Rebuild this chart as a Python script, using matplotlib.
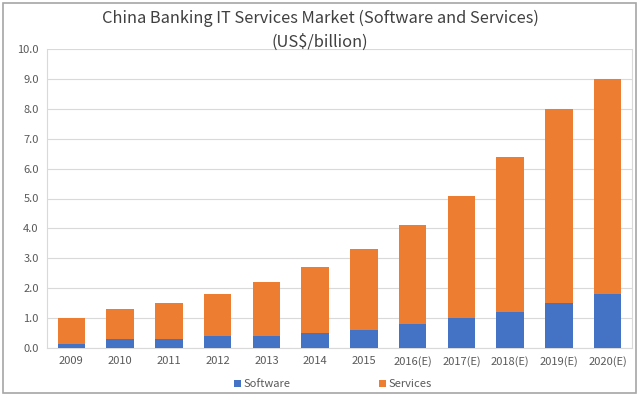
import matplotlib.pyplot as plt
import numpy as np
from matplotlib.patches import Rectangle

plt.rcParams['font.family'] = ['Noto Sans CJK SC', 'DejaVu Sans']

years = ['2009', '2010', '2011', '2012', '2013', '2014', '2015',
         '2016(E)', '2017(E)', '2018(E)', '2019(E)', '2020(E)']
software = [0.15, 0.3, 0.3, 0.4, 0.4, 0.5, 0.6, 0.8, 1.0, 1.2, 1.5, 1.8]
services = [0.85, 1.0, 1.2, 1.4, 1.8, 2.2, 2.7, 3.3, 4.1, 5.2, 6.5, 7.2]
yticks = [0.0, 1.0, 2.0, 3.0, 4.0, 5.0, 6.0, 7.0, 8.0, 9.0, 10.0]

blue = '#4472C4'
orange = '#ED7D31'
grid = '#D9D9D9'
txt = '#595959'

fig = plt.figure(figsize=(6.4, 3.95), dpi=100)
ax = fig.add_axes([47/640, 1-348/395, 585/640, 299/395])

x = np.arange(len(years))
ax.bar(x, software, width=0.56, color=blue, label='Software', zorder=3)
ax.bar(x, services, width=0.56, bottom=software, color=orange, label='Services', zorder=3)

ax.set_xlim(-0.5, len(years) - 0.5)
ax.set_ylim(0, 10)
ax.set_yticks(yticks)
ax.set_yticklabels(['%.1f' % v for v in yticks])
ax.set_xticks(x)
ax.set_xticklabels(years)
ax.tick_params(axis='both', length=0, labelsize=8, colors=txt, pad=6)
ax.grid(axis='y', color=grid, linewidth=0.8, zorder=0)
ax.spines['top'].set_visible(False)
for s in ['left', 'right', 'bottom']:
    ax.spines[s].set_color(grid)
    ax.spines[s].set_linewidth(0.8)

fig.text(0.5, 1-18/395, 'China Banking IT Services Market (Software and Services)',
         ha='center', va='center', fontsize=11.8, color='#404040')
fig.text(0.5, 1-42/395, '(US$/billion)', ha='center', va='center',
         fontsize=11.8, color='#404040')

fig.legend(loc='center', bbox_to_anchor=(0.52, 1-384/395), ncol=2, frameon=False,
           fontsize=8, labelcolor=txt, handlelength=0.6, handleheight=0.6,
           handletextpad=0.2, columnspacing=8)

# outer frame
fig.patches.append(Rectangle((3/640, 2/395), 633/640, 390/395, transform=fig.transFigure,
                             fill=False, edgecolor='#A6A6A6', linewidth=1.2))

fig.savefig('out.png', dpi=100)
